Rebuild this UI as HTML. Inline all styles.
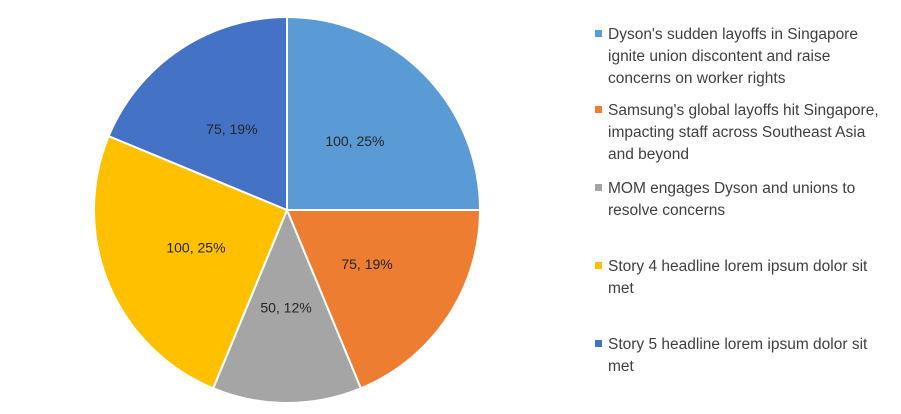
<!DOCTYPE html>
<html><head><meta charset="utf-8"><style>
body{margin:0;background:#fff;}
svg{display:block;font-family:"Liberation Sans",sans-serif;}
</style></head><body>
<svg id="chart" width="901" height="414"></svg>
<script>
const categories=["Dyson's sudden layoffs in Singapore ignite union discontent and raise concerns on worker rights","Samsung's global layoffs hit Singapore, impacting staff across Southeast Asia and beyond","MOM engages Dyson and unions to resolve concerns","Story 4 headline lorem ipsum dolor sit met","Story 5 headline lorem ipsum dolor sit met"];
const values=[100,75,50,100,75];
const legendLines=[["Dyson's sudden layoffs in Singapore","ignite union discontent and raise","concerns on worker rights"],["Samsung's global layoffs hit Singapore,","impacting staff across Southeast Asia","and beyond"],["MOM engages Dyson and unions to","resolve concerns"],["Story 4 headline lorem ipsum dolor sit","met"],["Story 5 headline lorem ipsum dolor sit","met"]];
const colors=["#5b9bd5","#ed7d31","#a5a5a5","#ffc000","#4472c4"];
const svg=document.getElementById('chart');const NS="http://www.w3.org/2000/svg";
const cx=287,cy=210,R=193;
const total=values.reduce((a,b)=>a+b,0);
function pt(a,r){return [cx+r*Math.sin(a),cy-r*Math.cos(a)];}
function pct(v){const x=v/total*100;const f=Math.floor(x);if(Math.abs(x-f-0.5)<1e-9)return f%2===0?f:f+1;return Math.round(x);}
let cum=0;
values.forEach((v,i)=>{
 const a0=cum/total*2*Math.PI;cum+=v;const a1=cum/total*2*Math.PI;
 const p0=pt(a0,R),p1=pt(a1,R);
 const path=document.createElementNS(NS,'path');
 path.setAttribute('d',`M${cx},${cy}L${p0[0]},${p0[1]}A${R},${R} 0 ${a1-a0>Math.PI?1:0} 1 ${p1[0]},${p1[1]}Z`);
 path.setAttribute('fill',colors[i]);path.setAttribute('stroke','#fff');path.setAttribute('stroke-width','2');
 
 
 svg.appendChild(path);
 const m=pt((a0+a1)/2,R*0.505);
 const t=document.createElementNS(NS,'text');
 t.setAttribute('x',m[0]-1);t.setAttribute('y',m[1]+5);t.setAttribute('text-anchor','middle');
 t.setAttribute('font-size','14');t.setAttribute('fill','#262626');
 t.textContent=v+', '+pct(v)+'%';
 
 
 svg.appendChild(t);
});
const tops=[34,110,188,266,344];
legendLines.forEach((lines,i)=>{
 const g=document.createElementNS(NS,'g');
 
 
 const r=document.createElementNS(NS,'rect');
 r.setAttribute('x',595);r.setAttribute('y',tops[i]-4);r.setAttribute('width',7);r.setAttribute('height',7);r.setAttribute('fill',colors[i]);
 g.appendChild(r);
 lines.forEach((l,j)=>{
  const t=document.createElementNS(NS,'text');
  t.setAttribute('x',608);t.setAttribute('y',tops[i]+5+j*22);t.setAttribute('font-size','15.5');t.setAttribute('fill','#404040');
  t.textContent=l;g.appendChild(t);
 });
 svg.appendChild(g);
});
</script>
</body></html>
